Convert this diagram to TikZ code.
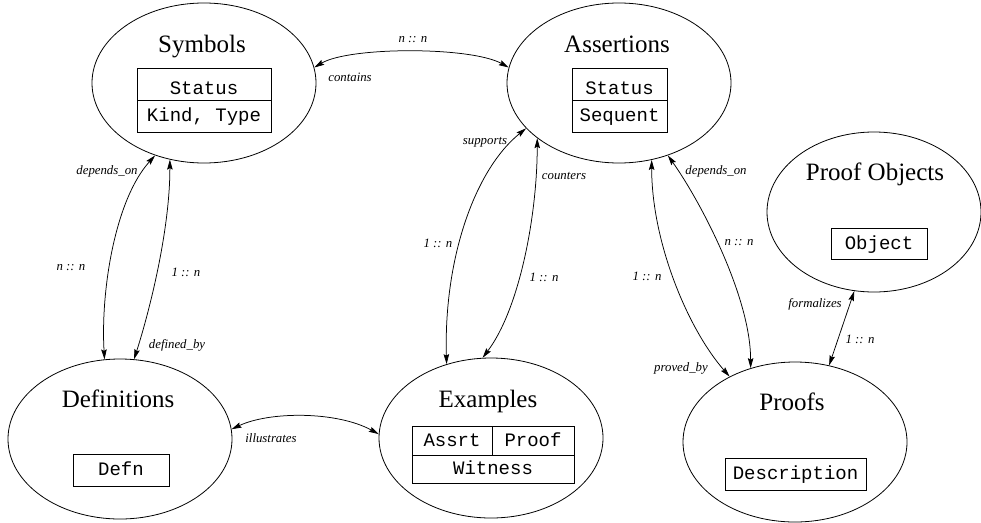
\documentclass[tikz,border=0pt]{standalone}
\usepackage{fontspec}
\setmainfont{Liberation Serif}
\setmonofont{Liberation Mono}
\usetikzlibrary{shapes.geometric,arrows.meta}
\begin{document}
\begin{tikzpicture}[x=1pt,y=1pt,
  ent/.style={ellipse,draw,line width=0.8pt,minimum width=224pt,minimum height=160pt,inner sep=0pt},
  ttl/.style={font=\fontsize{25}{30}\selectfont,anchor=base,inner sep=0pt},
  cell/.style={draw,line width=0.9pt,inner sep=0pt,font=\fontsize{19}{22}\selectfont\ttfamily,text height=11pt,text depth=0pt},
  lowcell/.style={cell,text height=21pt},
  lab/.style={font=\fontsize{12.8}{15}\selectfont\itshape,inner sep=0pt},
  rel/.style={line width=0.75pt,{Stealth[length=10pt,width=5.5pt,inset=1.5pt]}-{Stealth[length=10pt,width=5.5pt,inset=1.5pt]}}]
\useasboundingbox (0,0) rectangle (981,-522);

% Symbols
\node[ent] (sym) at (204,-83) {};
\node[ttl] (symt) at (202,-52) {Symbols};
\node[lowcell,minimum width=134pt,minimum height=32pt] (sym1) at (204,-84) {Status};
\node[cell,minimum width=134pt,minimum height=32pt] (sym2) at (204,-116) {Kind, Type};

% Assertions
\node[ent] (asr) at (619,-83) {};
\node[ttl] (asrt) at (617,-52) {Assertions};
\node[lowcell,minimum width=95pt,minimum height=32pt] (asr1) at (619.5,-84) {Status};
\node[cell,minimum width=95pt,minimum height=32pt] (asr2) at (619.5,-116) {Sequent};

% Proof Objects
\node[ent,minimum width=214pt] (pob) at (874,-212) {};
\node[ttl] (pobt) at (875,-180) {Proof Objects};
\node[cell,minimum width=96pt,minimum height=31pt] (pob1) at (879,-243.5) {Object};

% Definitions
\node[ent] (def) at (120,-439) {};
\node[ttl] (deft) at (118,-407) {Definitions};
\node[cell,minimum width=96pt,minimum height=32pt] (def1) at (121,-470) {Defn};

% Examples
\node[ent] (exa) at (491,-438) {};
\node[ttl] (exat) at (488,-407) {Examples};
\node[cell,minimum width=80pt,minimum height=29pt] (exa1) at (452,-440.5) {Assrt};
\node[cell,minimum width=82pt,minimum height=29pt] (exa2) at (533,-440.5) {Proof};
\node[cell,minimum width=162pt,minimum height=28pt] (exa3) at (493,-469) {Witness};

% Proofs
\node[ent] (prf) at (795,-442) {};
\node[ttl] (prft) at (792,-410) {Proofs};
\node[cell,minimum width=141pt,minimum height=32pt] (prf1) at (795.5,-474) {Description};

% connectors
\draw[rel] (sym.8) .. controls +(35,21) and +(-38,21) .. (asr.172);
\draw[rel] (sym.-124) .. controls +(-40,-44) and +(-4,69) .. (def.101);
\draw[rel] (sym.-114) .. controls +(0,-70) and +(16,50) .. (def.80);
\draw[rel] (asr.-154) .. controls +(-52,-42) and +(-3,104) .. (exa.121);
\draw[rel] (asr.-146) .. controls +(0,-77) and +(37,49) .. (exa.96);
\draw[rel] (asr.-67) .. controls +(0,-82) and +(-42,48) .. (prf.135);
\draw[rel] (asr.-56) .. controls +(32,-45) and +(0,72) .. (prf.121);
\draw[rel] (pob.-104) -- (prf.66);
\draw[rel] (def.5) .. controls +(38,18) and +(-42,23) .. (exa.178);

% labels
\node[lab] (l1) at (413,-40) {n :: n};
\node[lab] (l2) at (350,-77) {contains};
\node[lab] (l3) at (107,-171) {depends\_on};
\node[lab] (l4) at (71,-268) {n :: n};
\node[lab] (l5) at (186,-272) {1 :: n};
\node[lab] (l6) at (177,-345) {defined\_by};
\node[lab] (l7) at (485,-142) {supports};
\node[lab] (l8) at (564,-176) {counters};
\node[lab] (l9) at (438,-243) {1 :: n};
\node[lab] (l10) at (544,-277) {1 :: n};
\node[lab] (l11) at (647,-276) {1 :: n};
\node[lab] (l12) at (716,-171) {depends\_on};
\node[lab] (l13) at (739,-243) {n :: n};
\node[lab] (l14) at (681,-368) {proved\_by};
\node[lab] (l15) at (815,-304) {formalizes};
\node[lab] (l16) at (860,-339) {1 :: n};
\node[lab] (l17) at (271,-438) {illustrates};
\end{tikzpicture}
\end{document}
